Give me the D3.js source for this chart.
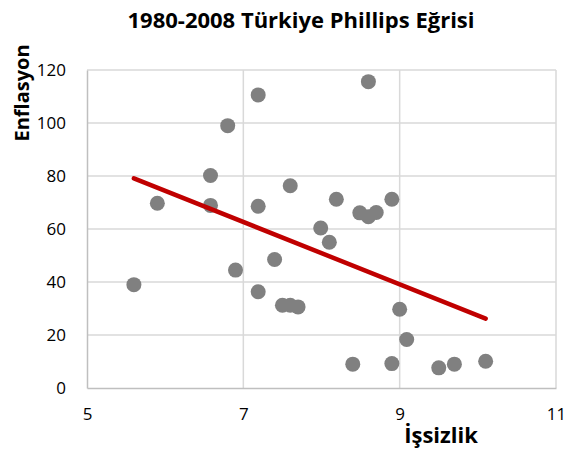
<!DOCTYPE html>
<html>
<head>
<meta charset="utf-8">
<script src="https://cdn.jsdelivr.net/npm/d3@7"></script>
<style>
  body { margin: 0; background: #fff; }
  svg { display: block; font-family: "Open Sans", sans-serif; }
</style>
</head>
<body>
<div id="chart"></div>
<script>
// unemployment (%) and inflation (%) pairs, 1980-2008
var issizlik = [5.6, 5.9, 6.58, 6.58, 6.8, 6.9, 7.19, 7.19, 7.19, 7.4, 7.5, 7.6,
                7.6, 7.7, 7.99, 8.1, 8.19, 8.4, 8.49, 8.6, 8.6, 8.7, 8.9, 8.9,
                9.0, 9.09, 9.5, 9.7, 10.1];
var enflasyon = [39.0, 69.7, 80.2, 68.9, 99.0, 44.5, 110.6, 68.6, 36.3, 48.5, 31.2, 76.3,
                 31.2, 30.6, 60.4, 55.0, 71.2, 9.0, 66.1, 115.6, 64.6, 66.2, 71.2, 9.2,
                 29.7, 18.3, 7.6, 9.0, 10.1];
// linear trend line end points
var trendX = [5.6, 10.1];
var trendY = [79.1, 26.2];
var xTicks = [5, 7, 9, 11];
var yTicks = [0, 20, 40, 60, 80, 100, 120];

var width = 567, height = 453;
var margin = {top: 70, right: 11, bottom: 65, left: 87};

var svg = d3.select('#chart').append('svg')
            .attr('width', width)
            .attr('height', height);

var x = d3.scaleLinear().domain([5, 11]).range([margin.left, width - margin.right]);
var y = d3.scaleLinear().domain([0, 120]).range([height - margin.bottom, margin.top]);

// gridlines
svg.append('g').selectAll('line.h')
   .data(yTicks.slice(1))
   .enter().append('line')
   .attr('x1', x(5)).attr('x2', x(11))
   .attr('y1', function(d) { return y(d); })
   .attr('y2', function(d) { return y(d); })
   .attr('stroke', '#d9d9d9')
   .attr('stroke-width', 1.5);

svg.append('g').selectAll('line.v')
   .data(xTicks.slice(1))
   .enter().append('line')
   .attr('y1', y(0)).attr('y2', y(120))
   .attr('x1', function(d) { return x(d); })
   .attr('x2', function(d) { return x(d); })
   .attr('stroke', '#d9d9d9')
   .attr('stroke-width', 1.5);

// axes
var xAxis = d3.axisBottom(x).tickValues(xTicks).tickFormat(d3.format('d'))
              .tickSize(0).tickPadding(20);
var yAxis = d3.axisLeft(y).tickValues(yTicks).tickFormat(d3.format('d'))
              .tickSize(0).tickPadding(21);

var gx = svg.append('g')
            .attr('transform', 'translate(0,' + y(0) + ')')
            .call(xAxis);
var gy = svg.append('g')
            .attr('transform', 'translate(' + x(5) + ',0)')
            .call(yAxis);

[gx, gy].forEach(function(g) {
  g.select('.domain').attr('stroke', '#bfbfbf').attr('stroke-width', 1.5);
  g.selectAll('text')
   .attr('font-size', 17)
   .attr('fill', '#000')
   .style('font-family', '"Open Sans", sans-serif');
});

// points
var points = issizlik.map(function(d, i) { return {x: d, y: enflasyon[i]}; });

svg.append('g').selectAll('circle')
   .data(points)
   .enter().append('circle')
   .attr('cx', function(d) { return x(d.x); })
   .attr('cy', function(d) { return y(d.y); })
   .attr('r', 7.5)
   .attr('fill', '#808080');

// trend line
svg.append('path')
   .datum(trendX.map(function(d, i) { return [d, trendY[i]]; }))
   .attr('d', d3.line()
                .x(function(d) { return x(d[0]); })
                .y(function(d) { return y(d[1]); }))
   .attr('fill', 'none')
   .attr('stroke', '#c00000')
   .attr('stroke-width', 4.5)
   .attr('stroke-linecap', 'round');

// titles
svg.append('text')
   .attr('x', 301)
   .attr('y', 28)
   .attr('text-anchor', 'middle')
   .attr('font-size', 22)
   .attr('font-weight', 'bold')
   .text('1980-2008 Türkiye Phillips Eğrisi');

svg.append('text')
   .attr('transform', 'translate(29,93) rotate(-90)')
   .attr('text-anchor', 'middle')
   .attr('font-size', 20)
   .attr('font-weight', 'bold')
   .text('Enflasyon');

svg.append('text')
   .attr('x', 441)
   .attr('y', 443)
   .attr('text-anchor', 'middle')
   .attr('font-size', 22)
   .attr('font-weight', 'bold')
   .text('İşsizlik');
</script>
</body>
</html>
